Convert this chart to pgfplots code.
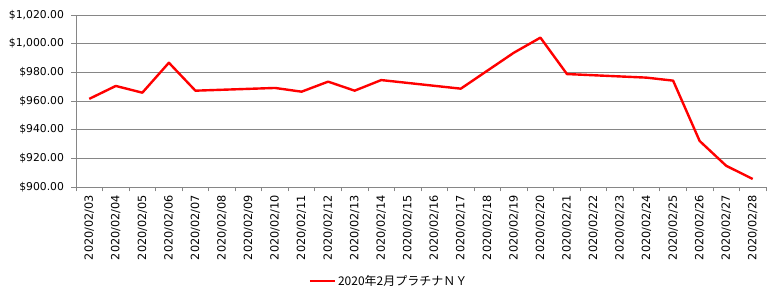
\documentclass[border=0pt]{standalone}
\usepackage{pgfplots}
\pgfplotsset{compat=1.18}
\usepackage{fontspec}
\setmainfont{DejaVu Sans}
\newfontfamily\cjk{Noto Sans CJK JP}
\definecolor{gridgray}{HTML}{868686}
\begin{document}
\begin{tikzpicture}[x=1pt,y=1pt]
\begin{axis}[
  at={(0,0)}, anchor=south west,
  scale only axis, width=690pt, height=172pt,
  xmin=-0.5, xmax=25.5, ymin=900, ymax=1020,
  axis lines*=left,
  axis line style={color=gridgray, line width=0.8pt},
  every tick/.style={color=gridgray, line width=0.8pt},
  tick align=outside,
  major tick length=4.5pt,
  ytick={900,920,940,960,980,1000,1020},
  yticklabels={{\$900.00},{\$920.00},{\$940.00},{\$960.00},{\$980.00},{\$1,000.00},{\$1,020.00}},
  y tick label style={font=\fontsize{10.8}{12}\selectfont, xshift=-4pt},
  ymajorgrids,
  grid style={color=gridgray, line width=0.9pt},
  xtick={-0.5,0.5,...,25.5},
  x tick label as interval,
  xticklabels={2020/02/03,2020/02/04,2020/02/05,2020/02/06,2020/02/07,2020/02/08,2020/02/09,2020/02/10,2020/02/11,2020/02/12,2020/02/13,2020/02/14,2020/02/15,2020/02/16,2020/02/17,2020/02/18,2020/02/19,2020/02/20,2020/02/21,2020/02/22,2020/02/23,2020/02/24,2020/02/25,2020/02/26,2020/02/27,2020/02/28},
  x tick label style={rotate=90, anchor=east, font=\fontsize{11.3}{12}\selectfont},
  legend style={at={(0.4536,-0.547)}, anchor=center, draw=none, fill=none,
    font=\cjk\fontsize{12}{14}\selectfont, inner sep=1pt},
  legend image code/.code={\draw[#1] (0pt,0pt) -- (25pt,0pt);},
  clip=false,
]
\addplot[color=red, line width=2.4pt, line join=round] coordinates {
  (0,961.5) (1,970.5) (2,965.8) (3,986.7) (4,967.2)
  (7,969.1) (8,966.5) (9,973.5) (10,967.2) (11,974.6)
  (14,968.6) (16,993.7) (17,1004.2) (18,978.8)
  (21,976.3) (22,974.2) (23,932.1) (24,914.8) (25,905.6)
};
\addlegendentry{2020年2月プラチナＮＹ}
\end{axis}
\pgfresetboundingbox
\path (-76,-115) rectangle (706,187);
\end{tikzpicture}
\end{document}
